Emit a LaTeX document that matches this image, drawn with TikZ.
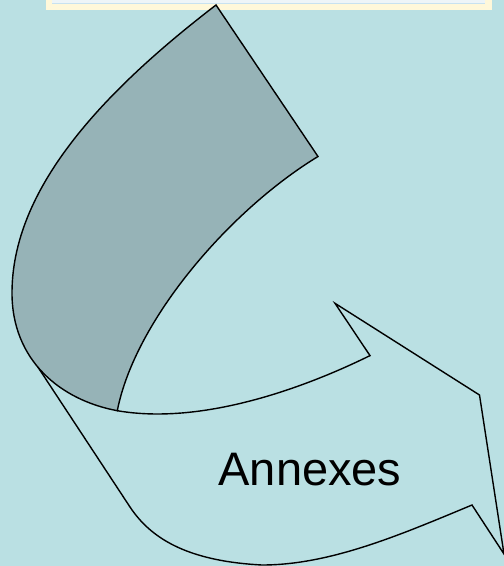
\documentclass[tikz,border=0pt]{standalone}
\usepackage{fontspec}
\setmainfont{Liberation Sans}
\definecolor{bgc}{RGB}{186,224,227}
\definecolor{tailc}{RGB}{150,179,183}
\definecolor{haloc}{RGB}{255,248,218}
\definecolor{innerc}{RGB}{238,245,248}
\definecolor{innerline}{RGB}{200,226,240}
\begin{document}
\begin{tikzpicture}[x=1pt,y=-1pt,
  outline/.style={draw=black,line width=1.4pt,line join=miter},
  labeltext/.style={font=\fontsize{47}{56}\selectfont,anchor=base,inner sep=0pt}]
\useasboundingbox (0,0) rectangle (504,566);
\fill[bgc] (0,0) rectangle (504,566);
% top box remnant
\fill[haloc] (46,0) rectangle (492,9.5);
\fill[innerc] (52,0) rectangle (485,3.5);
\draw[innerline,line width=0.8pt] (52,3.5) -- (485,3.5);
% front band of the arrow
\draw[outline] (37.6,366.6) -- (130,507)
  .. controls (150,537) and (185,561) .. (262,565)
  .. controls (330,565) and (400,535) .. (472,505)
  -- (504,554) -- (479.5,395) -- (335,303.3) -- (370,355.6)
  .. controls (300,390) and (200,425) .. (117.3,410.7);
% back (tail) of the arrow
\draw[outline,fill=tailc] (216,5) -- (318,156.5)
  .. controls (230,210) and (135,320) .. (117.3,410.7)
  .. controls (60,400) and (12,360) .. (12,293)
  .. controls (12,190) and (100,94) .. (216,5) -- cycle;
\node[labeltext] (lbl) at (310,485.5) {Annexes};
\end{tikzpicture}
\end{document}
